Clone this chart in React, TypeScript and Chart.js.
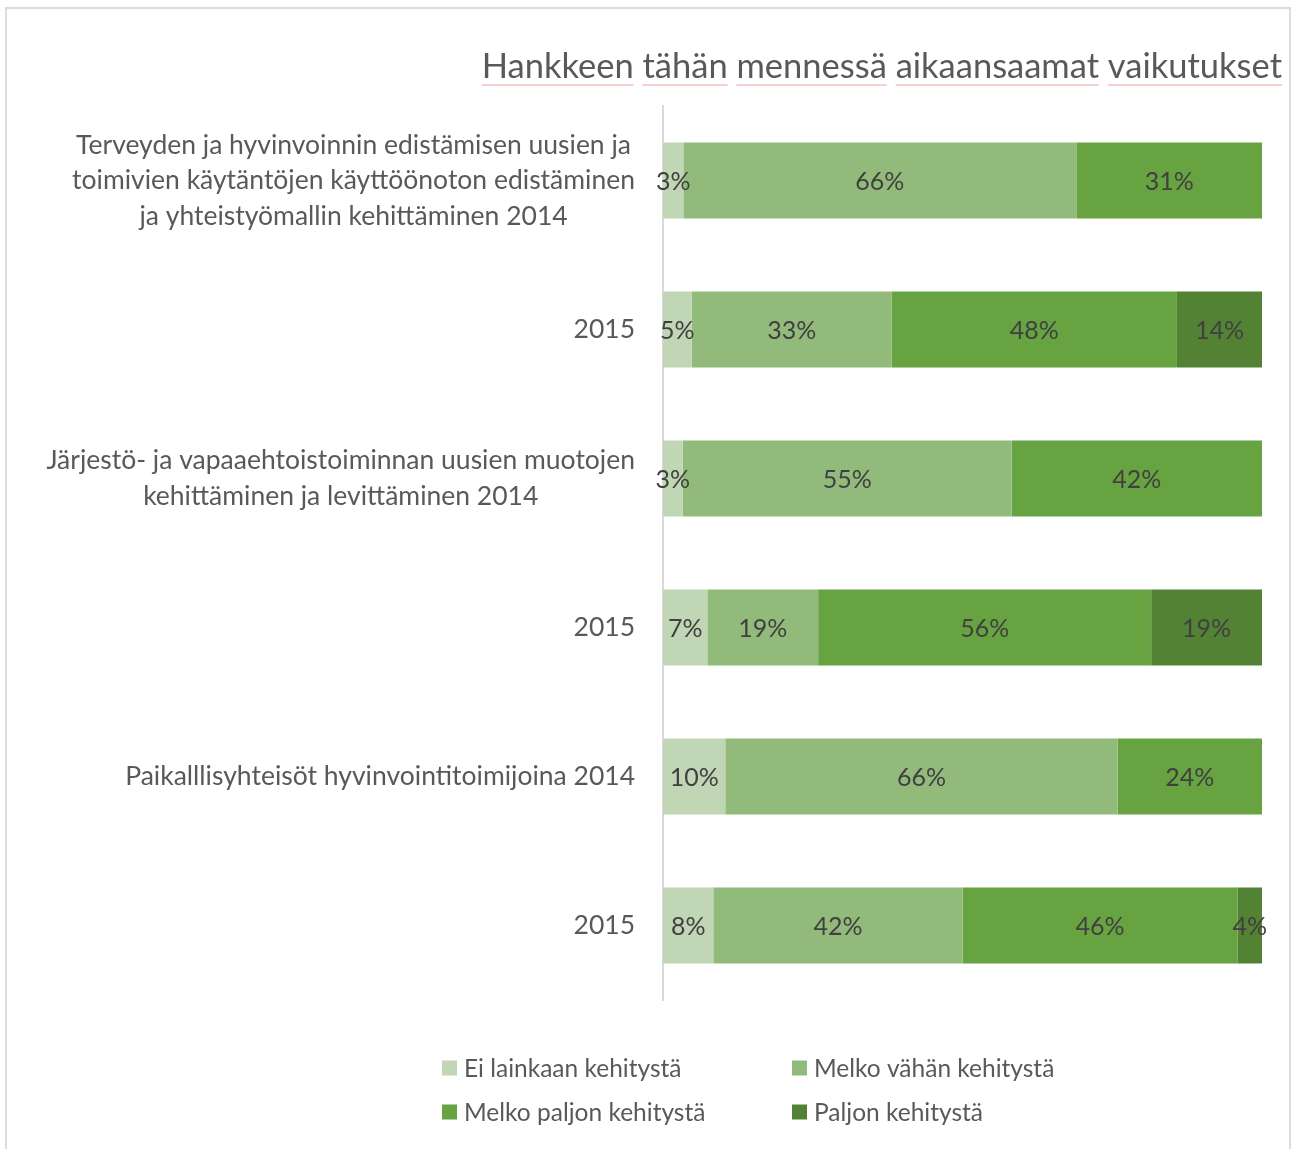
import React, { useEffect, useRef } from 'react';
import { Chart, registerables } from 'chart.js';

Chart.register(...registerables);

const categories: string[][] = [
  ['Terveyden ja hyvinvoinnin edistämisen uusien ja', 'toimivien käytäntöjen käyttöönoton edistäminen', 'ja yhteistyömallin kehittäminen 2014'],
  ['2015'],
  ['Järjestö- ja vapaaehtoistoiminnan uusien muotojen', 'kehittäminen ja levittäminen 2014'],
  ['2015'],
  ['Paikalllisyhteisöt hyvinvointitoimijoina 2014'],
  ['2015'],
];

const seriesNames = ['Ei lainkaan kehitystä', 'Melko vähän kehitystä', 'Melko paljon kehitystä', 'Paljon kehitystä'];
const seriesColors = ['#C0D6B5', '#92BB7B', '#68A342', '#548235'];

const eiLainkaan = [3.4, 4.8, 3.3, 7.4, 10.4, 8.4];
const melkoVahan = [65.6, 33.4, 54.9, 18.5, 65.5, 41.6];
const melkoPaljon = [31.0, 47.6, 41.8, 55.6, 24.1, 45.9];
const paljon = [0, 14.2, 0, 18.5, 0, 4.1];

const titleText = 'Hankkeen tähän mennessä aikaansaamat vaikutukset';

const FONT = 'Lato, "Noto Sans", sans-serif';

const titlePlugin = {
  id: 'customTitle',
  afterDraw(chart: any) {
    const ctx = chart.ctx;
    ctx.save();
    ctx.font = `34.5px ${FONT}`;
    ctx.fillStyle = '#595959';
    ctx.textAlign = 'right';
    ctx.textBaseline = 'alphabetic';
    const right = 1282;
    const base = 78;
    ctx.fillText(titleText, right, base);
    const total = ctx.measureText(titleText).width;
    let x = right - total;
    const words = titleText.split(' ');
    const space = ctx.measureText(' ').width;
    ctx.strokeStyle = '#F2A0A0';
    ctx.lineWidth = 1;
    for (const w of words) {
      const ww = ctx.measureText(w).width;
      ctx.beginPath();
      ctx.moveTo(x, base + 7);
      ctx.lineTo(x + ww, base + 7);
      ctx.stroke();
      x += ww + space;
    }
    ctx.restore();
  },
};

const yLabelPlugin = {
  id: 'yLabels',
  afterDraw(chart: any) {
    const ctx = chart.ctx;
    const yScale = chart.scales.y;
    const right = chart.chartArea.left - 28;
    const lineH = 35.5;
    ctx.save();
    ctx.font = `26.5px ${FONT}`;
    ctx.fillStyle = '#595959';
    ctx.textAlign = 'center';
    ctx.textBaseline = 'middle';
    categories.forEach((lines, i) => {
      const widest = Math.max(...lines.map((l) => ctx.measureText(l).width));
      const cx = right - widest / 2;
      const cy = yScale.getPixelForValue(i);
      lines.forEach((l, j) => {
        ctx.fillText(l, cx, cy + (j - (lines.length - 1) / 2) * lineH);
      });
    });
    ctx.restore();
  },
};

const barLabelPlugin = {
  id: 'barLabels',
  afterDatasetsDraw(chart: any) {
    const ctx = chart.ctx;
    ctx.save();
    ctx.font = `25px ${FONT}`;
    ctx.fillStyle = '#404040';
    ctx.textAlign = 'center';
    ctx.textBaseline = 'middle';
    chart.data.datasets.forEach((ds: any, di: number) => {
      const meta = chart.getDatasetMeta(di);
      meta.data.forEach((el: any, i: number) => {
        const v = ds.data[i];
        if (!v) return;
        const { x, base, y } = el.getProps(['x', 'base', 'y'], true);
        ctx.fillText(Math.round(v) + '%', (x + base) / 2, y + 1);
      });
    });
    ctx.restore();
  },
};

const legendPlugin = {
  id: 'customLegend',
  afterDraw(chart: any) {
    const ctx = chart.ctx;
    const cols = [442, 792];
    const rows = [1068, 1112];
    ctx.save();
    ctx.font = `24.5px ${FONT}`;
    ctx.textAlign = 'left';
    ctx.textBaseline = 'middle';
    seriesNames.forEach((name, i) => {
      const x = cols[i % 2];
      const y = rows[Math.floor(i / 2)];
      ctx.fillStyle = seriesColors[i];
      ctx.fillRect(x, y - 7.5, 15, 15);
      ctx.fillStyle = '#595959';
      ctx.fillText(name, x + 22, y + 1);
    });
    ctx.restore();
  },
};

export default function App() {
  const ref = useRef<HTMLCanvasElement>(null);

  useEffect(() => {
    if (!ref.current) return;
    const series = [eiLainkaan, melkoVahan, melkoPaljon, paljon];
    const chart = new Chart(ref.current, {
      type: 'bar',
      data: {
        labels: categories.map((c) => c.join(' ')),
        datasets: series.map((d, i) => ({
          label: seriesNames[i],
          data: d,
          backgroundColor: seriesColors[i],
          borderWidth: 0,
          barPercentage: 0.51,
          categoryPercentage: 1,
        })),
      },
      options: {
        indexAxis: 'y',
        responsive: false,
        animation: false,
        layout: { padding: { left: 663, right: 31, top: 106, bottom: 149 } },
        plugins: {
          legend: { display: false },
          title: { display: false },
          tooltip: { enabled: false },
        },
        scales: {
          x: { type: 'linear', min: 0, max: 100, stacked: true, display: false },
          y: {
            stacked: true,
            grid: { display: false, drawTicks: false, tickLength: 0 },
            ticks: { display: false },
            border: { display: true, color: '#D9D9D9', width: 2 },
          },
        },
      },
      plugins: [titlePlugin, yLabelPlugin, barLabelPlugin, legendPlugin],
    });
    return () => chart.destroy();
  }, []);

  return (
    <div style={{ position: 'fixed', left: 0, top: 0, width: 1293, height: 1149, background: '#fff' }}>
      <div
        style={{
          position: 'absolute',
          left: 5,
          top: 7,
          width: 1286,
          height: 1160,
          border: '2px solid #DCDCDC',
          boxSizing: 'border-box',
        }}
      />
      <canvas ref={ref} width={1293} height={1149} style={{ position: 'absolute', left: 0, top: 0, display: 'block' }} />
    </div>
  );
}
